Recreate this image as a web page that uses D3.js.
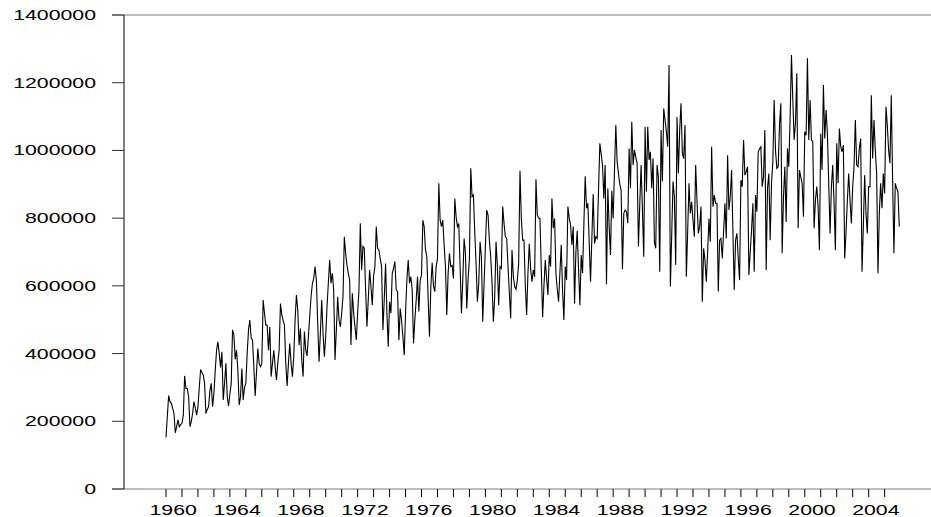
<!DOCTYPE html>
<html>
<head>
<meta charset="utf-8">
<script src="https://cdn.jsdelivr.net/npm/d3@7/dist/d3.min.js"></script>
<style>
body { margin: 0; background: #fff; }
svg { display: block; }
.lbl { font-family: "Liberation Sans", Arial, sans-serif; font-size: 14px; fill: #000; }
</style>
</head>
<body>
<svg id="main-svg" width="931" height="517"></svg>
<script>
(function() {

    // monthly values, thousands, Jan 1960 .. Dec 2005
    var v1960s = [
        152, 215, 276, 258, 253, 238, 223, 166, 185, 204, 184, 190,
        194, 218, 334, 297, 297, 273, 184, 200, 223, 258, 240, 218,
        243, 300, 353, 344, 337, 312, 223, 235, 243, 290, 312, 243,
        282, 350, 410, 435, 400, 359, 405, 263, 312, 371, 273, 245,
        280, 312, 470, 455, 383, 410, 351, 248, 273, 356, 263, 300,
        312, 400, 470, 499, 445, 440, 360, 275, 345, 415, 371, 361,
        371, 558, 520, 484, 484, 410, 479, 332, 371, 410, 361, 322,
        371, 410, 548, 514, 499, 484, 371, 304, 371, 430, 371, 332,
        391, 499, 573, 529, 425, 474, 381, 332, 465, 410, 393, 450,
        510, 568, 607, 622, 657, 617, 489, 376, 460, 558, 460, 391
    ];

    var v1970s = [
        450, 538, 610, 676, 608, 637, 588, 381, 470, 568, 499, 479,
        519, 568, 745, 696, 660, 637, 617, 425, 578, 519, 480, 440,
        519, 588, 785, 647, 716, 711, 588, 479, 560, 647, 598, 543,
        630, 657, 775, 711, 706, 680, 657, 470, 560, 666, 519, 420,
        553, 519, 637, 652, 672, 588, 583, 440, 533, 499, 450, 396,
        519, 617, 676, 608, 627, 588, 430, 500, 558, 627, 524, 617,
        632, 794, 775, 706, 686, 560, 450, 598, 668, 598, 583, 657,
        681, 903, 794, 775, 794, 720, 657, 514, 637, 696, 657, 660,
        622, 858, 804, 775, 784, 657, 519, 617, 740, 696, 533, 620,
        680, 947, 863, 868, 760, 666, 553, 607, 730, 686, 494, 607
    ];

    var v1980s = [
        716, 824, 809, 735, 686, 607, 494, 568, 730, 657, 543, 657,
        652, 834, 785, 745, 740, 657, 580, 504, 706, 627, 598, 590,
        617, 666, 940, 800, 735, 735, 600, 514, 640, 724, 650, 612,
        647, 627, 915, 809, 800, 799, 650, 507, 600, 676, 620, 573,
        691, 657, 858, 770, 799, 637, 590, 553, 640, 721, 583, 499,
        657, 617, 834, 800, 780, 721, 775, 548, 700, 763, 650, 543,
        691, 637, 780, 924, 829, 844, 730, 612, 740, 871, 725, 745,
        740, 880, 1021, 990, 957, 858, 957, 605, 888, 775, 691, 881,
        799, 940, 1075, 967, 932, 900, 883, 649, 814, 824, 819, 785,
        1006, 888, 1085, 957, 1001, 980, 962, 716, 840, 957, 824, 686
    ];

    var v1990s = [
        1070, 878, 1070, 972, 996, 888, 976, 730, 711, 957, 922, 642,
        1060, 908, 1124, 1090, 1055, 1011, 1252, 598, 750, 908, 863, 662,
        1099, 932, 1060, 1139, 991, 976, 1075, 627, 760, 903, 814, 848,
        794, 745, 957, 853, 755, 775, 834, 553, 711, 676, 612, 700,
        799, 730, 1011, 834, 868, 844, 844, 583, 735, 740, 681, 760,
        844, 740, 986, 824, 863, 942, 760, 588, 735, 755, 680, 617,
        912, 893, 1031, 927, 937, 952, 632, 700, 765, 844, 642, 868,
        819, 996, 1005, 1011, 893, 922, 1060, 647, 890, 932, 735, 903,
        967, 1149, 1000, 947, 952, 1075, 1139, 696, 863, 952, 789, 1006,
        952, 1100, 1282, 1149, 1031, 1080, 1228, 770, 942, 922, 903, 804
    ];

    var v2000s = [
        1055, 1045, 1272, 1031, 1149, 1031, 1026, 770, 853, 893, 834, 706,
        1050, 942, 1193, 1035, 1119, 1050, 900, 755, 893, 957, 844, 706,
        1021, 903, 1065, 1011, 996, 1016, 681, 760, 853, 932, 853, 784,
        893, 952, 1090, 957, 952, 1006, 1035, 642, 775, 927, 814, 755,
        893, 893, 1163, 976, 1090, 1000, 932, 637, 814, 903, 829, 932,
        873, 1129, 1075, 1000, 962, 1163, 912, 696, 903, 888, 878, 775
    ];

    var firstYear = 1960;
    var yTicks = [0, 200000, 400000, 600000, 800000, 1000000, 1200000, 1400000];
    var yearTicks = d3.range(1960, 2006);
    var yearLabels = ["1960", "1964", "1968", "1972", "1976", "1980", "1984",
                      "1988", "1992", "1996", "2000", "2004"];

    var series = v1960s.concat(v1970s, v1980s, v1990s, v2000s).map(function(v, i) {
        return {t: firstYear + i / 12, v: v * 1000};
    });

    var svg = d3.select("#main-svg");
    var stretch = 1.52;

    var x = d3.scaleLinear().domain([1960, 2006]).range([166, 900.6]);
    var y = d3.scaleLinear().domain([0, 1400000]).range([489, 15]);

    // top and bottom frame lines
    svg.append("line")
    .attr("x1", 112).attr("x2", 931)
    .attr("y1", y(1400000)).attr("y2", y(1400000))
    .attr("stroke", "#808080").attr("stroke-width", 1);

    svg.append("line")
    .attr("x1", 112).attr("x2", 931)
    .attr("y1", y(0)).attr("y2", y(0))
    .attr("stroke", "#808080").attr("stroke-width", 1);

    // y axis
    svg.append("line")
    .attr("x1", 124).attr("x2", 124)
    .attr("y1", y(0)).attr("y2", y(1400000))
    .attr("stroke", "#000").attr("stroke-width", 1);

    svg.selectAll(".ytick")
    .data(yTicks)
    .enter()
    .append("line")
    .classed("ytick", true)
    .attr("x1", 112).attr("x2", 124)
    .attr("y1", function(d) { return y(d); })
    .attr("y2", function(d) { return y(d); })
    .attr("stroke", "#333").attr("stroke-width", 1);

    svg.selectAll(".ylbl")
    .data(yTicks)
    .enter()
    .append("text")
    .attr("class", "lbl ylbl")
    .attr("text-anchor", "end")
    .attr("dy", "0.36em")
    .attr("transform", function(d) {
        return "translate(96," + y(d) + ") scale(" + stretch + ",1)";
    })
    .text(function(d) { return d; });

    // x ticks at each year start
    svg.selectAll(".xtick")
    .data(yearTicks)
    .enter()
    .append("line")
    .classed("xtick", true)
    .attr("x1", function(d) { return x(d); })
    .attr("x2", function(d) { return x(d); })
    .attr("y1", 489).attr("y2", 497)
    .attr("stroke", "#000").attr("stroke-width", 1);

    svg.selectAll(".xlbl")
    .data(yearLabels)
    .enter()
    .append("text")
    .attr("class", "lbl xlbl")
    .attr("text-anchor", "middle")
    .attr("transform", function(d) {
        return "translate(" + x(+d + 0.45) + ",515) scale(" + stretch + ",1)";
    })
    .text(function(d) { return d; });

    // the series
    var line = d3.line()
    .x(function(d) { return x(d.t); })
    .y(function(d) { return y(d.v); });

    svg.append("path")
    .datum(series)
    .attr("d", line)
    .attr("fill", "none")
    .attr("stroke", "#000")
    .attr("stroke-width", 1.1);
})();
</script>
</body>
</html>
